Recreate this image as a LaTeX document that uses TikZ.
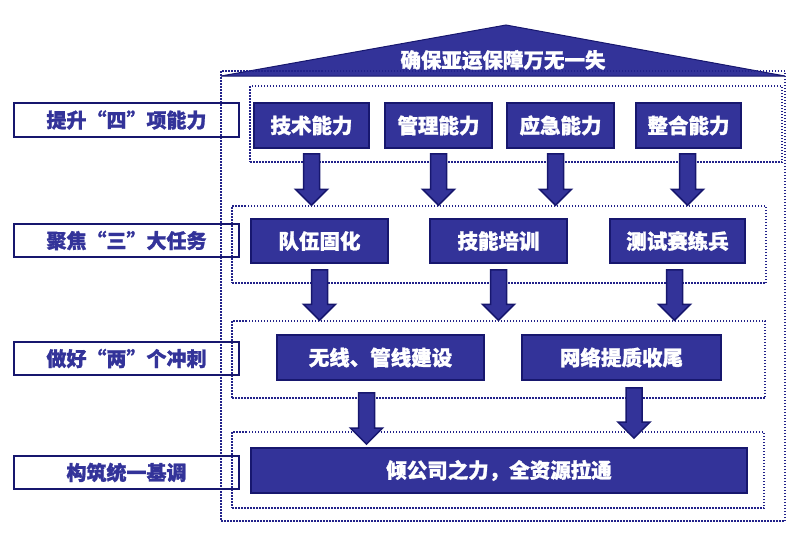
\documentclass[tikz,border=0pt]{standalone}
\usepackage{fontspec}
\newfontfamily\cjk{Noto Sans CJK SC}[BoldFeatures={FakeBold=1.2}]
\usetikzlibrary{calc}
\definecolor{fillblue}{HTML}{333399}
\definecolor{edgeblue}{HTML}{17176E}
\definecolor{dotblue}{HTML}{22228A}
\tikzset{
  box/.style={draw=edgeblue, line width=1.8pt, fill=fillblue, text=white,
    font=\cjk\bfseries\fontsize{20.5}{23}\selectfont, inner sep=0pt},
  lab/.style={draw=edgeblue, line width=1.2pt, text=fillblue,
    font=\cjk\bfseries\fontsize{20}{23}\selectfont, inner sep=0pt},
  frame/.style={draw=dotblue, line width=1.5pt, dash pattern=on 1.5pt off 1.5pt, inner sep=0pt},
  fat/.style={fill=fillblue, draw=edgeblue, line width=1.5pt, line join=miter},
  roof/.style={fill=fillblue, draw=edgeblue, line width=1pt, line join=miter},
}
% #1 style, #2 name, #3 x1, #4 y1, #5 x2, #6 y2, #7 text
\newcommand\mkbox[7]{\node[#1, minimum width={(#5)-(#3)}, minimum height={(#6)-(#4)}]
  (#2) at ({((#3)+(#5))/2},{((#4)+(#6))/2}) {#7};}
% fat down arrow from #1 (top centre of shaft) to #2 (tip)
\newcommand\fatarrow[2]{\draw[fat] let \p1=#1, \p2=#2 in
  (\x1-8,\y1) -- (\x1+8,\y1) -- (\x1+8,\y2+16) -- (\x1+16,\y2+16) -- (\x1,\y2)
  -- (\x1-16,\y2+16) -- (\x1-8,\y2+16) -- cycle;}
\begin{document}
\begin{tikzpicture}[x=1pt,y=-1pt]
\useasboundingbox (0,0) rectangle (800,539);
% roof
\draw[roof] (221,76) -- (506,25) -- (785,76) -- cycle;
\node[text=white, font=\cjk\bfseries\fontsize{20.5}{23}\selectfont, inner sep=0pt] (title) at (503,60) {确保亚运保障万无一失};
% frames
\mkbox{frame}{outer}{221}{71}{785}{521}{}
\mkbox{frame}{r1}{250}{86}{782}{162}{}
\mkbox{frame}{r2}{232}{206}{766}{283}{}
\mkbox{frame}{r3}{232}{321}{765}{398}{}
\mkbox{frame}{r4}{232}{432}{764}{508}{}
% left labels
\mkbox{lab}{L1}{14}{103}{239}{137}{提升“四”项能力}
\mkbox{lab}{L2}{14}{224}{239}{257}{聚焦“三”大任务}
\mkbox{lab}{L3}{14}{342}{239}{375}{做好“两”个冲刺}
\mkbox{lab}{L4}{14}{456}{239}{489}{构筑统一基调}
% row 1
\mkbox{box}{t1}{254}{103}{369}{148}{技术能力}
\mkbox{box}{t2}{385}{103}{492}{148}{管理能力}
\mkbox{box}{t3}{507}{103}{614}{148}{应急能力}
\mkbox{box}{t4}{636}{103}{741}{148}{整合能力}
% row 2
\mkbox{box}{s1}{251}{219}{388}{263}{队伍固化}
\mkbox{box}{s2}{430}{219}{567}{263}{技能培训}
\mkbox{box}{s3}{610}{219}{745}{263}{测试赛练兵}
% row 3
\mkbox{box}{w1}{277}{335}{484}{380}{无线、管线建设}
\mkbox{box}{w2}{522}{335}{721}{380}{网络提质收尾}
% row 4
\mkbox{box}{f}{251}{448}{747}{493}{倾公司之力，全资源拉通}
% arrows row 1 -> row 2
\coordinate (a11) at ([yshift=-5]t1.south);
\coordinate (a12) at ([yshift=-5]t2.south);
\coordinate (a13) at ([xshift=-5,yshift=-5]t3.south);
\coordinate (a14) at ([xshift=-1,yshift=-5]t4.south);
\foreach \a in {a11,a12,a13,a14} {\fatarrow{(\a)}{(\a |- r2.north)}}
% arrows row 2 -> row 3
\coordinate (a21) at ([yshift=-6]s1.south);
\coordinate (a22) at ([yshift=-6]s2.south);
\coordinate (a23) at ([xshift=-3,yshift=-6]s3.south);
\foreach \a in {a21,a22,a23} {\fatarrow{(\a)}{(\a |- r3.north)}}
% arrows row 3 -> row 4
\coordinate (a31) at ([xshift=-14,yshift=-12]w1.south);
\coordinate (a32) at ([xshift=12.5,yshift=-7]w2.south);
\coordinate (a31t) at ([yshift=3]a31 |- f.north);
\coordinate (a32t) at ([yshift=9]a32 |- f.north);
\fatarrow{(a31)}{(a31t)}
\fatarrow{(a32)}{(a32t)}
\end{tikzpicture}
\end{document}
